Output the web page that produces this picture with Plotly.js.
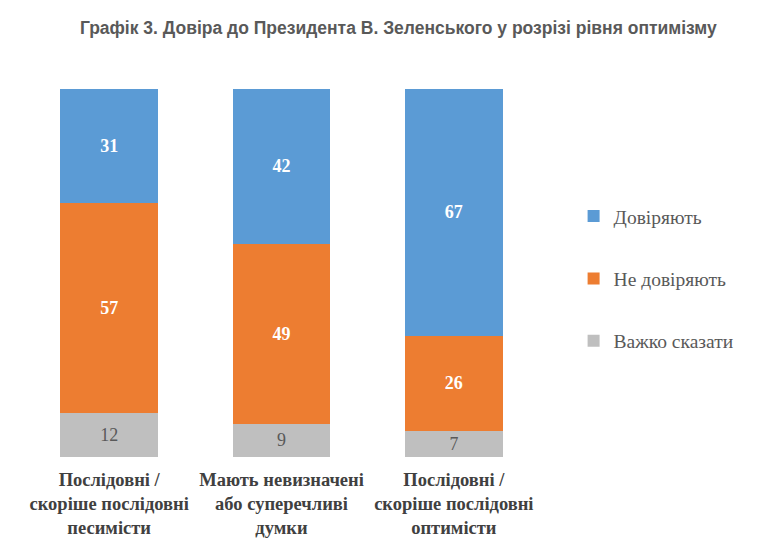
<!DOCTYPE html>
<html>
<head>
<meta charset="utf-8">
<script src="https://cdn.plot.ly/plotly-3.0.1.min.js"></script>
<style>html,body{margin:0;padding:0;background:#fff;}#chart{width:772px;height:555px;}</style>
</head>
<body>
<div id="chart"></div>
<script>
const categories = [
  "Послідовні /<br>скоріше послідовні<br>песимісти",
  "Мають невизначені<br>або суперечливі<br>думки",
  "Послідовні /<br>скоріше послідовні<br>оптимісти"
];
const trustVals = [31, 42, 67];
const distrustVals = [57, 49, 26];
const hardVals = [12, 9, 7];
const seriesNames = ["Довіряють", "Не довіряють", "Важко сказати"];

const serif = "Liberation Serif, Times New Roman, serif";
const xs = [0, 1, 2];

function mk(vals, name, color, fontColor, bold, rank) {
  return {
    type: "bar",
    x: xs,
    y: vals,
    name: name,
    legendgroup: name,
    legendrank: rank,
    marker: {color: color, line: {width: 0}},
    text: vals.map(v => bold ? "<b>" + v + "</b>" : String(v)),
    textposition: "inside",
    insidetextanchor: "middle",
    textangle: 0,
    textfont: {family: serif, size: 18, color: fontColor},
    hoverinfo: "none"
  };
}

const data = [
  mk(hardVals, seriesNames[2], "#bfbfbf", "#595959", false, 3),
  mk(distrustVals, seriesNames[1], "#ed7d31", "#ffffff", true, 2),
  mk(trustVals, seriesNames[0], "#5b9bd5", "#ffffff", true, 1)
];

const layout = {
  width: 772,
  height: 555,
  margin: {l: 23, r: 232, t: 89, b: 98, pad: 0},
  paper_bgcolor: "#ffffff",
  plot_bgcolor: "#ffffff",
  barmode: "stack",
  bargap: 0.432,
  showlegend: true,
  title: {
    text: "<b>Графік 3. Довіра до Президента В. Зеленського у розрізі рівня оптимізму</b>",
    font: {family: "Liberation Sans, Arial, sans-serif", size: 17.5, color: "#595959"},
    x: 0.516, xanchor: "center", xref: "container",
    y: 0.95, yanchor: "middle", yref: "container"
  },
  xaxis: {
    type: "linear",
    range: [-0.5, 2.5],
    tickvals: xs,
    ticktext: categories.map(c => "<b>" + c + "</b>"),
    tickfont: {family: serif, size: 18.5, color: "#404040"},
    ticklabelstandoff: 9,
    showgrid: false, zeroline: false, showline: false, ticks: "",
    fixedrange: true
  },
  yaxis: {
    range: [0, 100],
    visible: false,
    showgrid: false, zeroline: false,
    fixedrange: true
  },
  legend: {
    x: 0.743, xanchor: "left",
    y: 0.484, yanchor: "middle",
    xref: "container", yref: "paper",
    traceorder: "grouped",
    tracegroupgap: 34,
    font: {family: serif, size: 19.5, color: "#595959"},
    bgcolor: "rgba(0,0,0,0)"
  }
};

Plotly.newPlot("chart", data, layout, {displayModeBar: false, staticPlot: true});
</script>
</body>
</html>
